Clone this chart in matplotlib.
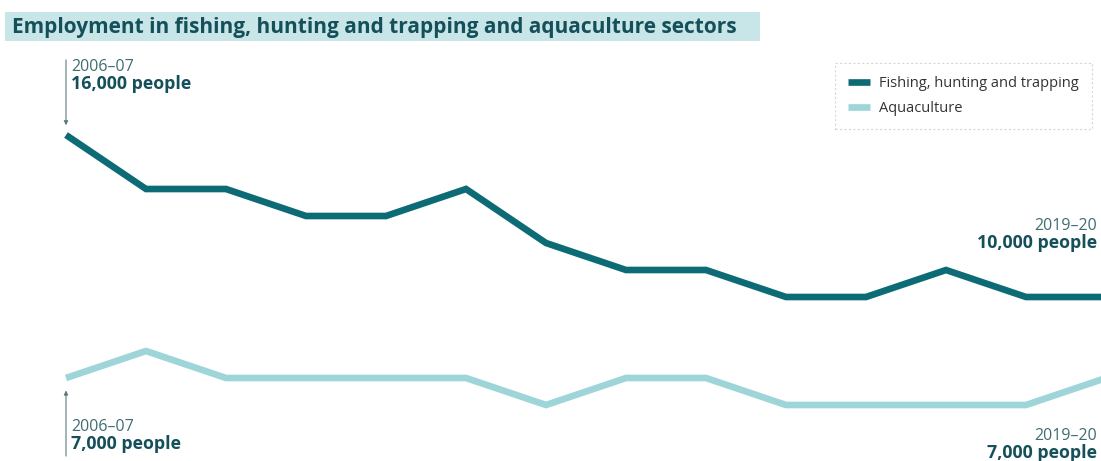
import matplotlib.pyplot as plt
from matplotlib.patches import Rectangle

years = ['2006-07', '2007-08', '2008-09', '2009-10', '2010-11', '2011-12', '2012-13',
         '2013-14', '2014-15', '2015-16', '2016-17', '2017-18', '2018-19', '2019-20']
fishing = [16, 14, 14, 13, 13, 14, 12, 11, 11, 10, 10, 11, 10, 10]  # thousand people
aquaculture = [7, 8, 7, 7, 7, 7, 6, 7, 7, 6, 6, 6, 6, 7]

dark = '#0d6b76'
light = '#9dd5d8'
txt_dark = '#15505a'
txt_light = '#3f6d73'

W, H = 1101, 461
fig = plt.figure(figsize=(W / 100, H / 100), dpi=100)
ax = fig.add_axes([0, 0, 1, 1])
x = list(range(len(years)))

ax.plot(x, fishing, color=dark, lw=4.8, solid_joinstyle='miter', solid_capstyle='butt',
        label='Fishing, hunting and trapping')
ax.plot(x, aquaculture, color=light, lw=4.8, solid_joinstyle='miter', solid_capstyle='butt',
        label='Aquaculture')

ax.set_xlim(-66 / 80, (W - 66) / 80)
ax.set_ylim(16 - (H - 135) / 27, 16 + 135 / 27)
ax.axis('off')

# title with shaded band
fig.patches.append(Rectangle((5 / W, 1 - 41 / H), 755 / W, 29 / H, transform=fig.transFigure,
                             facecolor='#c8e5e7', edgecolor='none', zorder=0))
fig.text(12 / W, 1 - 27 / H, 'Employment in fishing, hunting and trapping and aquaculture sectors',
         fontsize=15, fontweight='bold', family='Open Sans', color=txt_dark, va='center')

# start / end annotations
arrow = dict(arrowstyle='-|>', color='#5a7a7e', lw=0.8, mutation_scale=6, shrinkA=0, shrinkB=7)
ax.annotate('', xy=(x[0], fishing[0]), xytext=(0, 75), textcoords='offset pixels', arrowprops=arrow)
arrow2 = dict(arrow, shrinkB=9)
ax.annotate('', xy=(x[0], aquaculture[0]), xytext=(0, -78), textcoords='offset pixels', arrowprops=arrow2)

def label(px, py, period, value, ha='left'):
    fig.text(px / W, 1 - py / H, period, fontsize=11.5, family='Open Sans', color=txt_light,
             ha=ha, va='center')
    fig.text(px / W, 1 - (py + 17) / H, value, fontsize=12.8, fontweight='bold', family='Open Sans',
             color=txt_dark, ha=ha, va='center')

label(71, 67, '2006\u201307', '{:,} people'.format(fishing[0] * 1000))
label(71, 427, '2006\u201307', '{:,} people'.format(aquaculture[0] * 1000))
label(1097, 226, '2019\u201320', '{:,} people'.format(fishing[-1] * 1000), ha='right')
label(1097, 436, '2019\u201320', '{:,} people'.format(aquaculture[-1] * 1000), ha='right')

leg = ax.legend(loc='upper left', bbox_to_anchor=(835 / W, 1 - 63 / H), borderaxespad=0,
                frameon=True, fancybox=False, handlelength=1.5, handletextpad=0.6,
                borderpad=0.9, labelspacing=0.7, prop={'family': 'Open Sans', 'size': 10.5})
leg.get_frame().set_linestyle((0, (2, 2)))
leg.get_frame().set_edgecolor('#cccccc')
leg.get_frame().set_linewidth(0.8)
for t in leg.get_texts():
    t.set_color('#333333')

fig.savefig('out.png', dpi=100, facecolor='white')
